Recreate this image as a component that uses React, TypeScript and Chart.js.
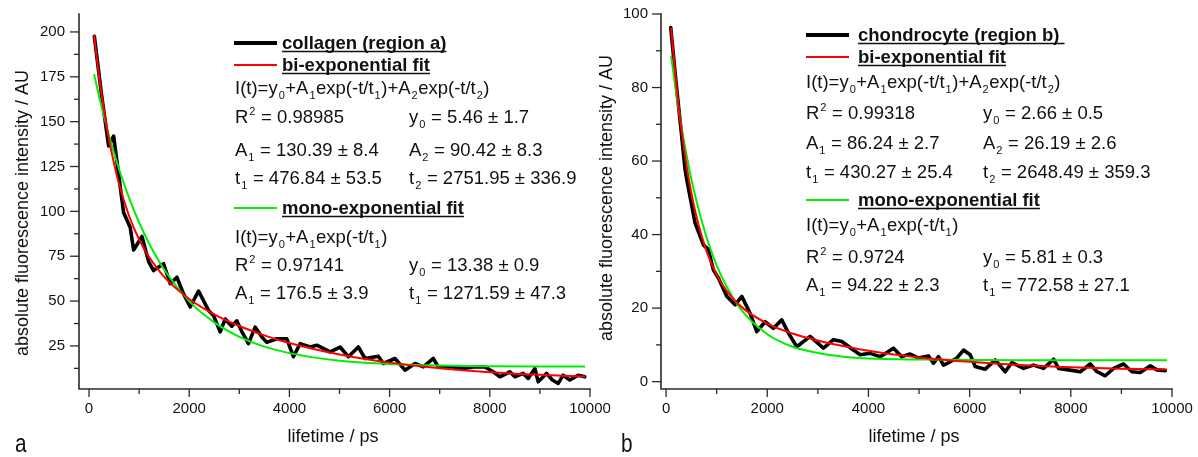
import React, { useEffect, useRef } from 'react';
import { Chart, registerables } from 'chart.js';

Chart.register(...registerables);

const FONT = "'Liberation Sans', Arial, Helvetica, sans-serif";
const H = 457;

// ---------- Panel a: collagen (region a) ----------
const collagenT = [106, 250, 391, 491, 690, 823, 890, 1057, 1190, 1288, 1488, 1621, 1754, 1887, 2020, 2186, 2385, 2485, 2618, 2718, 2850, 2950, 3050, 3183, 3316, 3450, 3549, 3749, 3948, 4080, 4213, 4413, 4546, 4812, 5011, 5177, 5376, 5510, 5775, 5874, 6108, 6307, 6507, 6673, 6872, 6971, 7271, 7470, 7669, 7902, 8068, 8201, 8401, 8500, 8667, 8766, 8899, 8966, 9132, 9250, 9365, 9464, 9597, 9763, 9896];
const collagenI = [197.6, 165, 136.5, 142, 99.4, 91, 78.5, 86, 72, 67, 70.8, 59.7, 63.3, 54, 46.7, 55.6, 44.8, 42, 32.8, 40, 36, 39, 33, 26.3, 35.5, 30, 27, 29, 29, 19, 26.3, 24.4, 25.4, 21.7, 24.4, 19, 24.4, 18, 19.3, 15.2, 18, 11.5, 15.2, 13.3, 18, 13.3, 13.3, 12.4, 13.3, 13.3, 10.6, 7.8, 10.6, 7.8, 9.7, 6.9, 12.4, 5, 9.7, 6, 4.1, 8.7, 6, 8.7, 7.8];

const fitT = [100, 200, 300, 400, 500, 600, 800, 1000, 1200, 1500, 2000, 2500, 3000, 3500, 4000, 5000, 6000, 7000, 8000, 9000, 9900];
const collagenBi = [198.4, 175.3, 156.1, 140.0, 126.6, 115.2, 97.4, 84.3, 74.5, 63.5, 51.2, 42.6, 36.1, 30.9, 26.6, 20.2, 15.7, 12.6, 10.4, 8.9, 7.9];
const collagenMono = [176.5, 164.2, 152.8, 142.2, 132.5, 123.5, 107.5, 93.8, 82.1, 67.6, 50.0, 38.1, 30.1, 24.6, 21.0, 16.8, 15.0, 14.1, 13.7, 13.5, 13.5];

// ---------- Panel b: chondrocyte (region b) ----------
const chondroT = [93, 200, 300, 376, 409, 573, 738, 837, 935, 1034, 1200, 1364, 1497, 1661, 1793, 1958, 2122, 2287, 2419, 2584, 2847, 3111, 3308, 3474, 3703, 3836, 4034, 4232, 4495, 4660, 4825, 4990, 5187, 5286, 5385, 5484, 5616, 5748, 5879, 6011, 6110, 6308, 6506, 6704, 6836, 7066, 7264, 7461, 7659, 7758, 7956, 8187, 8384, 8517, 8681, 8846, 9043, 9209, 9373, 9571, 9703, 9867];
const chondroI = [96.3, 81, 68, 57.7, 55, 43.2, 37.2, 35.9, 30.4, 28.2, 23.2, 20.9, 23.2, 18.6, 13.6, 16.3, 14.5, 16.8, 13.2, 9.5, 12.3, 9.1, 11.4, 10.9, 8.6, 7.3, 7.7, 6.8, 9.1, 6.8, 7.5, 6.4, 7, 5, 6.8, 4.5, 5.4, 6.4, 8.6, 7.3, 4.1, 3.4, 5.9, 2.7, 5.2, 3.6, 4.5, 3.6, 6.1, 3.6, 3.2, 2.7, 4.8, 2.7, 1.6, 3.6, 4.8, 2.7, 2.5, 4.3, 3.2, 3];
const chondroBi = [96.2, 81.1, 69.0, 59.2, 51.3, 44.9, 35.5, 29.1, 24.6, 20.2, 15.8, 13.1, 11.2, 9.7, 8.4, 6.6, 5.4, 4.5, 3.9, 3.5, 3.3];
const chondroMono = [88.6, 78.5, 69.7, 62.0, 55.1, 49.2, 39.3, 31.6, 25.8, 19.3, 12.9, 9.5, 7.8, 6.8, 6.3, 6.0, 5.9, 5.8, 5.8, 5.8, 5.8];

// ---------- Ticks ----------
const xTickValues = [0, 2000, 4000, 6000, 8000, 10000];
const yTickValuesA = [25, 50, 75, 100, 125, 150, 175, 200];
const yTickValuesB = [0, 20, 40, 60, 80, 100];

// ---------- Text ----------
const xTitle = 'lifetime / ps';
const yTitle = 'absolute fluorescence intensity / AU';

const legendA = [
  { kind: 'series', series: 'data', text: 'collagen (region a)' },
  { kind: 'series', series: 'bi', text: 'bi-exponential fit' },
  { kind: 'text', cols: ['I(t)=y_0+A_1exp(-t/t_1)+A_2exp(-t/t_2)'] },
  { kind: 'text', cols: ['R^2 = 0.98985', 'y_0 = 5.46 ± 1.7'] },
  { kind: 'text', cols: ['A_1 = 130.39 ± 8.4', 'A_2 = 90.42 ± 8.3'] },
  { kind: 'text', cols: ['t_1 = 476.84 ± 53.5', 't_2 = 2751.95 ± 336.9'] },
  { kind: 'series', series: 'mono', text: 'mono-exponential fit' },
  { kind: 'text', cols: ['I(t)=y_0+A_1exp(-t/t_1)'] },
  { kind: 'text', cols: ['R^2 = 0.97141', 'y_0 = 13.38 ± 0.9'] },
  { kind: 'text', cols: ['A_1 = 176.5 ± 3.9', 't_1 = 1271.59 ± 47.3'] },
];

const legendB = [
  { kind: 'series', series: 'data', text: 'chondrocyte (region b) ' },
  { kind: 'series', series: 'bi', text: 'bi-exponential fit' },
  { kind: 'text', cols: ['I(t)=y_0+A_1exp(-t/t_1)+A_2exp(-t/t_2)'] },
  { kind: 'text', cols: ['R^2 = 0.99318', 'y_0 = 2.66 ± 0.5'] },
  { kind: 'text', cols: ['A_1 = 86.24 ± 2.7', 'A_2 = 26.19 ± 2.6'] },
  { kind: 'text', cols: ['t_1 = 430.27 ± 25.4', 't_2 = 2648.49 ± 359.3'] },
  { kind: 'series', series: 'mono', text: 'mono-exponential fit' },
  { kind: 'text', cols: ['I(t)=y_0+A_1exp(-t/t_1)'] },
  { kind: 'text', cols: ['R^2 = 0.9724', 'y_0 = 5.81 ± 0.3'] },
  { kind: 'text', cols: ['A_1 = 94.22 ± 2.3', 't_1 = 772.58 ± 27.1'] },
];

const STYLE: Record<string, { color: string; width: number; legendWidth: number }> = {
  data: { color: '#000000', width: 3.6, legendWidth: 4 },
  bi: { color: '#ff0000', width: 2, legendWidth: 2 },
  mono: { color: '#00ee00', width: 2, legendWidth: 2 },
};

const AXIS_COLOR = '#2a2a2a';
const TEXT_COLOR = '#111111';
const LEGEND_SIZE = 18.5;

type Panel = {
  canvasLeft: number;
  canvasWidth: number;
  area: { left: number; right: number; top: number; bottom: number };
  xMin: number; xMax: number; yMin: number; yMax: number;
  yTicks: number[];
  t: number[]; v: number[]; bi: number[]; mono: number[];
  legend: any[];
  rows: number[];
  lineX1: number; lineX2: number; headerX: number; textX: number; col2X: number;
  yLabelPad: number;
  yTitlePos: [number, number];
  xTitlePos: [number, number];
  letter: string;
  letterPos: [number, number];
};

const panelA: Panel = {
  canvasLeft: 0, canvasWidth: 625,
  area: { left: 79, right: 590, top: 14, bottom: 389 },
  xMin: -200, xMax: 10000, yMin: 1, yMax: 210,
  yTicks: yTickValuesA,
  t: collagenT, v: collagenI, bi: collagenBi, mono: collagenMono,
  legend: legendA,
  rows: [43, 65, 88, 117, 150, 178, 208, 237, 265, 293],
  lineX1: 234, lineX2: 277, headerX: 282, textX: 235, col2X: 409,
  yLabelPad: 14,
  yTitlePos: [23, 213],
  xTitlePos: [333, 437],
  letter: 'a',
  letterPos: [15, 452],
};

const panelB: Panel = {
  canvasLeft: 598, canvasWidth: 600,
  area: { left: 661, right: 1172, top: 14, bottom: 389 },
  xMin: -100, xMax: 10000, yMin: -2, yMax: 100,
  yTicks: yTickValuesB,
  t: chondroT, v: chondroI, bi: chondroBi, mono: chondroMono,
  legend: legendB,
  rows: [35, 57, 82, 113, 143, 172, 200, 225, 257, 285],
  lineX1: 806, lineX2: 849, headerX: 858, textX: 806, col2X: 983,
  yLabelPad: 13,
  yTitlePos: [607, 198],
  xTitlePos: [914, 437],
  letter: 'b',
  letterPos: [621, 452],
};

function drawRich(ctx: CanvasRenderingContext2D, text: string, x: number, y: number, size: number, bold: boolean) {
  const main = `${bold ? 'bold ' : ''}${size}px ${FONT}`;
  const small = `${bold ? 'bold ' : ''}${Math.round(size * 0.6)}px ${FONT}`;
  let cx = x;
  let run = '';
  const flush = () => {
    if (!run) return;
    ctx.font = main;
    ctx.fillText(run, cx, y);
    cx += ctx.measureText(run).width;
    run = '';
  };
  for (let i = 0; i < text.length; i++) {
    const ch = text[i];
    if ((ch === '_' || ch === '^') && i + 1 < text.length) {
      flush();
      const c = text[i + 1];
      i++;
      ctx.font = small;
      const dy = ch === '_' ? size * 0.28 : -size * 0.42;
      ctx.fillText(c, cx + 1, y + dy);
      cx += ctx.measureText(c).width + 1.5;
    } else {
      run += ch;
    }
  }
  flush();
  return cx - x;
}

function PanelChart({ p }: { p: Panel }) {
  const ref = useRef<HTMLCanvasElement>(null);
  useEffect(() => {
    const canvas = ref.current!;
    const off = p.canvasLeft;
    const overlay = {
      id: 'overlay',
      afterDraw(chart: any) {
        const ctx: CanvasRenderingContext2D = chart.ctx;
        const xs = chart.scales.x;
        const ys = chart.scales.y;
        const a = chart.chartArea;
        ctx.save();
        // axes
        ctx.strokeStyle = AXIS_COLOR;
        ctx.lineWidth = 1.6;
        ctx.lineCap = 'square';
        ctx.beginPath();
        ctx.moveTo(a.left, a.top);
        ctx.lineTo(a.left, a.bottom);
        ctx.lineTo(a.right, a.bottom);
        ctx.stroke();
        ctx.lineWidth = 1.3;
        ctx.lineCap = 'butt';
        const seg = (x1: number, y1: number, x2: number, y2: number) => {
          ctx.beginPath();
          ctx.moveTo(x1, y1);
          ctx.lineTo(x2, y2);
          ctx.stroke();
        };
        // y ticks (major + minor)
        const yStep = p.yTicks[1] - p.yTicks[0];
        p.yTicks.forEach((v) => {
          const y = ys.getPixelForValue(v);
          seg(a.left - 9, y, a.left, y);
        });
        for (let i = -1; i < p.yTicks.length; i++) {
          const v = (i < 0 ? p.yTicks[0] - yStep : p.yTicks[i]) + yStep / 2;
          if (v < p.yMin || v > p.yMax) continue;
          const y = ys.getPixelForValue(v);
          seg(a.left - 5, y, a.left, y);
        }
        // x ticks
        const xStep = xTickValues[1] - xTickValues[0];
        xTickValues.forEach((v) => {
          const x = xs.getPixelForValue(v);
          seg(x, a.bottom, x, a.bottom + 8);
        });
        for (let i = 0; i < xTickValues.length - 1; i++) {
          const x = xs.getPixelForValue(xTickValues[i] + xStep / 2);
          seg(x, a.bottom, x, a.bottom + 5);
        }
        // axis titles
        ctx.fillStyle = TEXT_COLOR;
        ctx.font = `18px ${FONT}`;
        ctx.textAlign = 'center';
        ctx.textBaseline = 'middle';
        ctx.fillText(xTitle, p.xTitlePos[0] - off, p.xTitlePos[1]);
        ctx.save();
        ctx.translate(p.yTitlePos[0] - off, p.yTitlePos[1]);
        ctx.rotate(-Math.PI / 2);
        ctx.fillText(yTitle, 0, 0);
        ctx.restore();
        // panel letter
        ctx.save();
        ctx.textAlign = 'left';
        ctx.textBaseline = 'alphabetic';
        ctx.translate(p.letterPos[0] - off, p.letterPos[1]);
        ctx.scale(0.8, 1);
        ctx.font = `26px ${FONT}`;
        ctx.fillText(p.letter, 0, 0);
        ctx.restore();
        // legend block
        ctx.textAlign = 'left';
        ctx.textBaseline = 'alphabetic';
        p.legend.forEach((item: any, i: number) => {
          const cy = p.rows[i];
          const base = cy + 6;
          if (item.kind === 'series') {
            const st = STYLE[item.series];
            ctx.strokeStyle = st.color;
            ctx.lineWidth = st.legendWidth;
            seg(p.lineX1 - off, cy, p.lineX2 - off, cy);
            ctx.fillStyle = TEXT_COLOR;
            const w = drawRich(ctx, item.text, p.headerX - off, base, LEGEND_SIZE, true);
            ctx.strokeStyle = TEXT_COLOR;
            ctx.lineWidth = 1.5;
            seg(p.headerX - off, base + 2.5, p.headerX - off + w, base + 2.5);
          } else {
            ctx.fillStyle = TEXT_COLOR;
            drawRich(ctx, item.cols[0], p.textX - off, base, LEGEND_SIZE, false);
            if (item.cols[1]) drawRich(ctx, item.cols[1], p.col2X - off, base, LEGEND_SIZE, false);
          }
        });
        ctx.restore();
      },
    };

    const pts = (xs: number[], ys: number[]) => xs.map((x, i) => ({ x, y: ys[i] }));
    const tickFont = { family: FONT, size: 15 };

    const chart = new Chart(canvas, {
      type: 'line',
      data: {
        datasets: [
          {
            label: 'bi-exponential fit',
            data: pts(fitT, p.bi),
            borderColor: STYLE.bi.color,
            borderWidth: STYLE.bi.width,
            pointRadius: 0,
            cubicInterpolationMode: 'monotone',
            fill: false,
          },
          {
            label: 'mono-exponential fit',
            data: pts(fitT, p.mono),
            borderColor: STYLE.mono.color,
            borderWidth: STYLE.mono.width,
            pointRadius: 0,
            cubicInterpolationMode: 'monotone',
            fill: false,
          },
          {
            label: 'data',
            data: pts(p.t, p.v),
            borderColor: STYLE.data.color,
            borderWidth: STYLE.data.width,
            borderJoinStyle: 'round',
            borderCapStyle: 'round',
            pointRadius: 0,
            tension: 0,
            fill: false,
          },
        ],
      },
      options: {
        responsive: false,
        animation: false,
        devicePixelRatio: 1,
        events: [],
        layout: {
          padding: { left: 0, top: p.area.top, right: p.canvasWidth - (p.area.right - off), bottom: 0 },
        },
        plugins: { legend: { display: false }, tooltip: { enabled: false }, title: { display: false } },
        scales: {
          x: {
            type: 'linear',
            min: p.xMin,
            max: p.xMax,
            afterFit: (s: any) => { s.height = H - p.area.bottom; },
            afterBuildTicks: (s: any) => { s.ticks = xTickValues.map((v) => ({ value: v })); },
            grid: { display: false, drawTicks: true, tickLength: 11 },
            border: { display: false },
            ticks: {
              padding: 0,
              font: tickFont,
              color: TEXT_COLOR,
              maxRotation: 0,
              autoSkip: false,
              callback: (v: any) => String(v),
            },
          },
          y: {
            type: 'linear',
            min: p.yMin,
            max: p.yMax,
            afterFit: (s: any) => { s.width = p.area.left - off; },
            afterBuildTicks: (s: any) => { s.ticks = p.yTicks.map((v) => ({ value: v })); },
            grid: { display: false, drawTicks: true, tickLength: p.yLabelPad },
            border: { display: false },
            ticks: {
              padding: 0,
              font: tickFont,
              color: TEXT_COLOR,
              autoSkip: false,
              callback: (v: any) => String(v),
            },
          },
        },
      } as any,
      plugins: [overlay],
    });
    return () => chart.destroy();
  }, [p]);
  return (
    <canvas
      ref={ref}
      width={p.canvasWidth}
      height={H}
      style={{ position: 'absolute', left: p.canvasLeft, top: 0, width: p.canvasWidth, height: H }}
    />
  );
}

export default function App() {
  return (
    <div style={{ position: 'fixed', left: 0, top: 0, width: 1198, height: H, background: '#ffffff', overflow: 'hidden' }}>
      <PanelChart p={panelA} />
      <PanelChart p={panelB} />
    </div>
  );
}
